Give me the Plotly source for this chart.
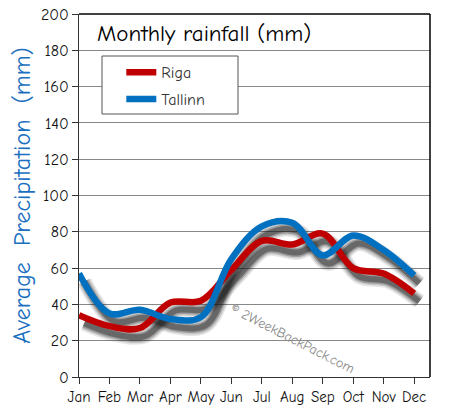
import plotly.graph_objects as go

months = ["Jan", "Feb", "Mar", "Apr", "May", "Jun", "Jul", "Aug", "Sep", "Oct", "Nov", "Dec"]
riga = [34, 28, 27, 41, 42, 59, 75, 73, 79, 60, 57, 46]
tallinn = [57, 35, 37, 32, 33, 65, 83, 85, 67, 78, 70, 56]
y_ticks = [0, 20, 40, 60, 80, 100, 120, 140, 160, 180, 200]

idx = list(range(len(months)))
FONT = "Comic Neue, Comic Sans MS, Noto Sans, sans-serif"

fig = go.Figure()

# soft drop shadows (offset + blurred via several translucent strokes)
sdx, sdy = 0.17, -4.4
for series in (riga, tallinn):
    for w, op in [(15, 0.10), (12, 0.15), (9, 0.24), (6, 0.38)]:
        fig.add_trace(go.Scatter(
            x=[i + sdx for i in idx], y=[v + sdy for v in series],
            mode="lines", line=dict(color=f"rgba(20,20,20,{op})", width=w, shape="spline", smoothing=1.0),
            showlegend=False, hoverinfo="skip"))

fig.add_trace(go.Scatter(x=idx, y=riga, name="Riga", mode="lines", legendgroup="a",
                         line=dict(color="#c00000", width=6.5, shape="spline", smoothing=1.0)))
fig.add_trace(go.Scatter(x=idx, y=tallinn, name="Tallinn", mode="lines", legendgroup="b",
                         line=dict(color="#0070c0", width=6.5, shape="spline", smoothing=1.0)))

# paper coords of the legend frame
lx0, lx1 = (102 - 79) / 351, (238 - 79) / 351
ly0, ly1 = (377 - 114) / 363, (377 - 56) / 363

fig.update_layout(
    width=450, height=419,
    margin=dict(l=79, r=20, t=14, b=42),
    paper_bgcolor="white", plot_bgcolor="white",
    font=dict(family=FONT, color="#111111", size=14),
    showlegend=True,
    legend=dict(x=lx0 + 0.055, y=ly1 + 0.002, xanchor="left", yanchor="top",
                borderwidth=0, bgcolor="rgba(0,0,0,0)",
                font=dict(size=16, color="#333333"),
                tracegroupgap=3),
    xaxis=dict(range=[0, 11.52], tickmode="array", tickvals=idx, ticktext=months,
               ticks="outside", ticklen=6, tickcolor="#333333", showgrid=False,
               showline=True, linecolor="#333333", linewidth=1, mirror=False,
               zeroline=False, automargin=False, ticklabeloverflow="allow",
               tickfont=dict(size=15, color="#111111")),
    yaxis=dict(range=[0, 200], tickmode="array", tickvals=y_ticks,
               ticks="outside", ticklen=6, tickcolor="#333333",
               showgrid=True, gridcolor="#888888", gridwidth=1,
               showline=True, linecolor="#333333", linewidth=1, zeroline=False,
               automargin=False, ticklabeloverflow="allow",
               tickfont=dict(size=16, color="#111111"),
               title=dict(text="Average  Precipitation  (mm)", standoff=3,
                          font=dict(size=24, color="#1a6fbf"))),
    shapes=[
        dict(type="rect", xref="paper", yref="paper", x0=lx0, x1=lx1, y0=ly0, y1=ly1,
             line=dict(color="#555555", width=1), fillcolor="white", layer="above"),
        dict(type="line", xref="paper", yref="paper", x0=0, x1=1, y0=1, y1=1,
             line=dict(color="black", width=1.5)),
        dict(type="line", xref="paper", yref="paper", x0=1, x1=1, y0=0, y1=1,
             line=dict(color="black", width=1.5)),
    ],
    annotations=[
        dict(text="Monthly rainfall (mm)", xref="paper", yref="paper", x=0.045, y=0.99,
             xanchor="left", yanchor="top", showarrow=False,
             font=dict(size=23, color="black")),
        dict(text="© 2WeekBackPack.com", xref="paper", yref="paper", x=0.607, y=0.105,
             xanchor="center", yanchor="middle", showarrow=False, textangle=27,
             font=dict(size=14, color="#888888")),
    ],
)

# remove the default 8px page margin so the figure sits at the window's corner
fig.write_html("out.html", config={"displayModeBar": False},
               post_script="document.body.style.margin='0';")
